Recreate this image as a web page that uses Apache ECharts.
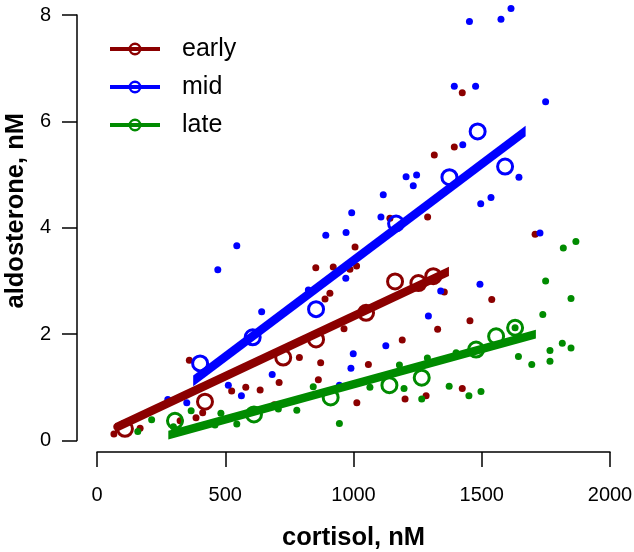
<!DOCTYPE html>
<html><head><meta charset="utf-8">
<script src="https://cdn.jsdelivr.net/npm/echarts@6/dist/echarts.min.js"></script>
<style>html,body{margin:0;padding:0;background:#fff}#c{width:634px;height:552px}</style>
</head><body><div id="c"></div>
<script>
// ---- tick labels ----
const xTicks = [0, 500, 1000, 1500, 2000];
const yTicks = [0, 2, 4, 6, 8];
const xTitle = 'cortisol, nM';
const yTitle = 'aldosterone, nM';
const groups = ['early', 'mid', 'late'];
const colors = ['#8B0000', '#0000FF', '#008B00'];

// ---- individual samples ----
const earlyX = [1006, 1424, 1393, 1315, 1142, 1289, 1708, 853, 921, 986, 1012, 908, 889, 963, 789, 872, 360, 710, 863, 1013, 525, 580, 636, 412, 386, 691, 324, 77, 66, 168, 1539, 1354, 1328, 1454, 1190, 1058, 1201, 1283, 1424];
const earlyY = [3.64, 6.54, 5.52, 5.37, 4.18, 4.20, 3.88, 3.25, 3.26, 3.22, 3.28, 2.77, 2.66, 2.10, 1.56, 1.46, 1.51, 1.09, 1.14, 0.71, 0.93, 1.00, 0.95, 0.52, 0.43, 0.67, 0.37, 0.26, 0.12, 0.23, 2.65, 2.79, 2.09, 2.25, 1.89, 1.43, 0.78, 0.84, 0.98];
const midX = [545, 892, 971, 993, 1452, 1575, 1614, 1393, 1476, 1749, 1426, 1645, 1205, 1246, 1233, 1116, 1107, 1496, 1536, 1727, 471, 970, 824, 642, 999, 990, 683, 945, 512, 563, 276, 350, 1493, 1340, 1292, 1126];
const midY = [3.66, 3.86, 3.91, 4.28, 7.88, 7.92, 8.12, 6.66, 6.66, 6.37, 5.56, 4.95, 4.96, 4.99, 4.79, 4.62, 4.20, 4.45, 4.57, 3.90, 3.21, 3.05, 2.83, 2.42, 1.63, 1.36, 1.24, 1.04, 1.04, 0.84, 0.77, 0.71, 2.94, 2.81, 2.34, 1.78];
const lateX = [1818, 1867, 1749, 1848, 1738, 1643, 1695, 1766, 1766, 1814, 1848, 1400, 1288, 1179, 1064, 1197, 1266, 1373, 1450, 1497, 843, 945, 367, 483, 707, 779, 460, 545, 298, 159, 213, 1630];
const lateY = [3.62, 3.74, 3.00, 2.67, 2.37, 1.58, 1.43, 1.69, 1.49, 1.83, 1.74, 1.65, 1.55, 1.42, 1.00, 0.98, 0.78, 1.02, 0.84, 0.92, 1.01, 0.32, 0.56, 0.51, 0.59, 0.57, 0.29, 0.31, 0.26, 0.17, 0.39, 2.12];

// ---- binned means (open circles) ----
const earlyMeanX = [109, 421, 726, 854, 1049, 1162, 1253, 1311];
const earlyMeanY = [0.22, 0.73, 1.56, 1.90, 2.40, 2.99, 2.96, 3.09];
const midMeanX = [402, 607, 854, 1166, 1374, 1484, 1591];
const midMeanY = [1.45, 1.94, 2.47, 4.08, 4.95, 5.81, 5.15];
const lateMeanX = [304, 612, 911, 1140, 1266, 1478, 1556, 1630];
const lateMeanY = [0.37, 0.49, 0.81, 1.04, 1.18, 1.71, 1.96, 2.12];

// ---- regression line end points [x1, y1, x2, y2] ----
const earlyFit = [70, 0.235, 1372, 3.18];
const midFit = [375, 1.12, 1671, 5.82];
const lateFit = [278, 0.10, 1711, 2.00];

const zip = (xs, ys) => xs.map((x, i) => [x, ys[i]]);
const pts = [zip(earlyX, earlyY), zip(midX, midY), zip(lateX, lateY)];
const means = [zip(earlyMeanX, earlyMeanY), zip(midMeanX, midMeanY), zip(lateMeanX, lateMeanY)];
const fits = [earlyFit, midFit, lateFit];

const FONT = '"Liberation Sans", Arial, Helvetica, sans-serif';
const LINE_W = 8.5;

function bandItem(params, api) {
  const p1 = api.coord([api.value(0), api.value(1)]);
  const p2 = api.coord([api.value(2), api.value(3)]);
  const ang = Math.atan2(p2[1] - p1[1], p2[0] - p1[0]);
  const h = LINE_W / 2 / Math.abs(Math.cos(ang));
  return {
    type: 'polygon',
    shape: { points: [[p1[0], p1[1] - h], [p2[0], p2[1] - h], [p2[0], p2[1] + h], [p1[0], p1[1] + h]] },
    style: { fill: api.visual('color') }
  };
}

const iconPath = 'path://M0,5H50V9H0Z M18.5,7a6.5,6.5 0 1,1 13,0a6.5,6.5 0 1,1 -13,0Z M21,7a4,4 0 1,0 8,0a4,4 0 1,0 -8,0Z';

const series = [];
groups.forEach((g, i) => {
  series.push({
    name: g + ' samples', type: 'scatter', data: pts[i], symbol: 'circle', symbolSize: 7,
    itemStyle: { color: colors[i], opacity: 1 }, clip: false, z: 2, silent: true
  });
});
groups.forEach((g, i) => {
  series.push({
    name: g + ' fit', type: 'custom', data: [fits[i]], renderItem: bandItem,
    encode: { x: [0, 2], y: [1, 3] }, itemStyle: { color: colors[i] }, z: 3, silent: true
  });
});
groups.forEach((g, i) => {
  series.push({
    name: g, type: 'scatter', data: means[i], symbol: 'circle', symbolSize: 15,
    itemStyle: { color: 'transparent', borderColor: colors[i], borderWidth: 3, opacity: 1 },
    clip: false, z: 4, silent: true
  });
});

const chart = echarts.init(document.getElementById('c'), null, { renderer: 'canvas' });
chart.setOption({
  animation: false,
  backgroundColor: '#fff',
  grid: { left: 97, right: 24, top: 15, bottom: 111.5, containLabel: false, outerBoundsMode: 'none' },
  legend: {
    orient: 'vertical', left: 110, top: 36.5, padding: 0,
    itemWidth: 50, itemHeight: 14, itemGap: 13, selectedMode: false,
    textStyle: { fontSize: 25, lineHeight: 25, color: '#000', fontFamily: FONT, padding: [0, 0, 0, 17] },
    data: groups.map((g, i) => ({ name: g, icon: iconPath, itemStyle: { color: colors[i], borderWidth: 0 } }))
  },
  xAxis: {
    type: 'value', min: xTicks[0], max: xTicks[xTicks.length - 1], interval: xTicks[1] - xTicks[0],
    offset: 11.5,
    name: xTitle, nameLocation: 'middle', nameGap: 73,
    nameTextStyle: { fontSize: 25.5, fontWeight: 'bold', color: '#000', fontFamily: FONT },
    axisLine: { show: true, onZero: false, lineStyle: { color: '#000', width: 1.5 } },
    axisTick: { show: true, length: 15, lineStyle: { color: '#000', width: 1.5 } },
    axisLabel: { fontSize: 20, color: '#000', margin: 33, fontFamily: FONT, formatter: v => String(v), hideOverlap: false },
    splitLine: { show: false }
  },
  yAxis: {
    type: 'value', min: yTicks[0], max: yTicks[yTicks.length - 1], interval: yTicks[1] - yTicks[0],
    offset: 20,
    name: yTitle, nameLocation: 'middle', nameGap: 48,
    nameTextStyle: { fontSize: 25.5, fontWeight: 'bold', color: '#000', fontFamily: FONT, padding: [0, 0, 0, 34] },
    axisLine: { show: true, onZero: false, lineStyle: { color: '#000', width: 1.5 } },
    axisTick: { show: true, length: 15, lineStyle: { color: '#000', width: 1.5 } },
    axisLabel: { fontSize: 20, color: '#000', margin: 26, fontFamily: FONT, formatter: v => String(v) },
    splitLine: { show: false }
  },
  series: series
});
</script>
</body></html>
